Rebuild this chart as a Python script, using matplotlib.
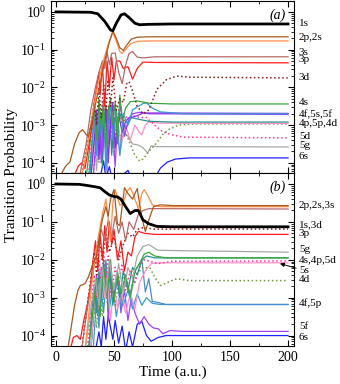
import matplotlib.pyplot as plt
from matplotlib.ticker import LogLocator, MultipleLocator, NullFormatter
import matplotlib.transforms as mtransforms

plt.rcParams['font.family'] = 'Liberation Serif'
plt.rcParams['mathtext.fontset'] = 'stix'

# values as (time, log10 of probability)
# ---- panel (a)
A_1S = [(0, 0), (30, -0.01), (36, -0.05), (42, -0.25), (47, -0.48), (49, -0.5), (52, -0.3),
        (56, -0.08), (59, -0.05), (63, -0.15), (68, -0.3), (72, -0.34), (80, -0.33), (100, -0.32), (200, -0.32)]
A_2P = [(3, -4.4), (8, -4.1), (12, -3.98), (16, -3.5), (20, -3.2), (23, -3.12), (26, -3.25), (28, -3.3),
        (31, -2.9), (35, -2.3), (38, -1.9), (42, -1.3), (46, -0.8), (49, -0.5), (52, -0.7), (55, -0.95),
        (58, -1.02), (61, -0.88), (65, -0.72), (70, -0.67), (80, -0.66), (200, -0.66)]
A_2S = [(22, -4.4), (27, -3.6), (31, -2.8), (35, -2.1), (40, -1.4), (45, -0.85), (49, -0.55), (52, -0.78),
        (55, -1.05), (57, -1.1), (60, -1.0), (64, -0.85), (70, -0.78), (80, -0.77), (200, -0.77)]
A_3S = [(20, -4.4), (26, -3.5), (30, -2.6), (34, -2.0), (37, -1.6), (40, -1.3), (42, -1.5), (44, -1.06),
        (46, -1.4), (48, -1.1), (51, -1.09), (54, -1.6), (57, -1.9), (60, -1.4), (63, -1.1), (66, -1.05),
        (70, -1.2), (75, -1.22), (85, -1.19), (200, -1.19)]
A_3P = [(15, -4.4), (19, -4.1), (22, -4.0), (25, -4.15), (28, -3.6), (31, -3.0), (33, -2.4), (35, -2.0),
        (37, -1.6), (38, -2.2), (40, -1.4), (42, -2.5), (44, -1.3), (46, -2.0), (48, -1.2), (50, -1.8),
        (52, -1.3), (55, -1.3), (58, -1.5), (62, -1.45), (66, -1.78), (70, -1.5), (75, -1.33), (85, -1.34), (200, -1.35)]
A_3D = [(22, -4.4), (27, -3.5), (30, -3.0), (33, -2.4), (35, -3.0), (37, -2.0), (39, -2.8), (41, -1.9),
        (43, -2.6), (45, -1.8), (47, -2.5), (49, -1.75), (52, -2.6), (55, -2.3), (58, -2.4), (61, -1.9),
        (63, -1.85), (66, -2.1), (70, -2.5), (75, -2.7), (80, -2.6), (87, -2.05), (95, -1.8), (104, -1.7),
        (115, -1.73), (200, -1.75)]
A_4S = [(26, -4.4), (29, -3.6), (31, -3.0), (33, -2.5), (35, -3.4), (37, -2.3), (39, -3.1), (41, -2.4),
        (43, -3.6), (45, -2.6), (47, -2.3), (49, -3.0), (51, -2.4), (53, -3.5), (55, -2.2), (57, -2.9),
        (60, -2.55), (64, -2.38), (70, -2.36), (80, -2.42), (100, -2.44), (200, -2.44)]
A_4F = [(28, -4.4), (31, -3.5), (33, -2.7), (35, -3.8), (37, -2.5), (39, -3.3), (41, -2.6), (43, -4.2),
        (45, -2.8), (47, -2.5), (49, -3.4), (52, -2.6), (55, -3.8), (58, -2.7), (62, -3.0), (66, -2.6),
        (70, -2.52), (75, -2.43), (78, -2.41), (83, -2.55), (90, -2.65), (110, -2.7), (200, -2.7)]
A_5S = [(30, -4.4), (33, -3.4), (35, -2.6), (37, -3.9), (39, -2.7), (41, -3.3), (43, -2.5), (45, -4.0),
        (47, -2.9), (49, -2.4), (51, -3.6), (54, -2.7), (57, -3.2), (60, -2.9), (63, -2.8), (66, -2.79),
        (70, -2.75), (75, -2.68), (85, -2.68), (200, -2.69)]
A_5F = [(32, -4.4), (35, -3.2), (37, -2.8), (39, -4.0), (41, -2.9), (44, -2.6), (46, -3.5), (48, -2.7),
        (51, -4.1), (53, -2.9), (56, -2.5), (59, -3.3), (62, -2.9), (66, -2.7), (72, -2.66), (80, -2.7), (200, -2.72)]
A_4P = [(29, -4.4), (32, -3.1), (34, -2.6), (36, -3.5), (38, -2.8), (40, -4.1), (42, -2.7), (44, -3.2),
        (46, -2.5), (48, -3.8), (50, -2.8), (53, -3.0), (56, -2.7), (60, -3.1), (65, -2.8), (72, -2.85),
        (80, -2.9), (100, -2.92), (200, -2.92)]
A_5P = [(30, -4.4), (33, -3.0), (35, -3.7), (37, -2.7), (39, -3.4), (41, -2.5), (43, -3.9), (45, -2.6),
        (47, -3.1), (49, -2.5), (51, -3.7), (53, -2.8), (56, -3.5), (60, -3.0), (64, -3.4), (68, -3.0),
        (72, -3.2), (74, -3.26), (77, -3.0), (80, -2.92), (90, -2.95), (200, -2.96)]
A_4D = [(32, -4.4), (35, -3.4), (37, -4.0), (39, -3.0), (41, -3.6), (43, -2.8), (45, -3.5), (47, -2.9),
        (50, -3.8), (53, -3.0), (56, -3.4), (60, -3.2), (64, -3.5), (68, -3.8), (72, -3.95), (75, -3.9),
        (80, -3.7), (86, -3.5), (92, -3.25), (98, -3.1), (106, -3.0), (120, -2.97), (200, -2.97)]
A_5D = [(28, -4.4), (31, -3.3), (33, -2.8), (35, -3.6), (37, -2.4), (39, -3.2), (41, -2.3), (43, -3.5),
        (45, -2.5), (47, -3.1), (49, -2.4), (51, -3.4), (54, -2.6), (57, -3.0), (60, -2.8), (66, -2.75),
        (72, -2.8), (78, -2.8), (85, -3.0), (92, -3.18), (100, -3.26), (110, -3.32), (200, -3.34)]
A_5G = [(30, -4.4), (33, -3.3), (35, -4.2), (37, -3.0), (40, -3.8), (42, -2.9), (44, -4.3), (46, -3.1),
        (49, -3.6), (52, -2.9), (55, -3.8), (58, -3.2), (62, -3.3), (66, -3.5), (71, -3.53), (75, -3.6),
        (79, -3.74), (82, -3.55), (86, -3.57), (200, -3.58)]
A_6S = [(38, -4.4), (41, -3.95), (43, -4.4), (46, -4.1), (48, -4.4), (55, -4.4), (62, -4.2), (65, -4.4),
        (85, -4.4), (90, -4.14), (96, -3.98), (103, -3.9), (115, -3.87), (200, -3.87)]

# ---- panel (b)
B_1S = [(0, 0), (20, -0.01), (25, -0.03), (33, -0.07), (38, -0.1), (42, -0.2), (46, -0.29), (50, -0.33),
        (53, -0.34), (56, -0.4), (60, -0.6), (64, -0.78), (68, -0.7), (71, -0.7), (75, -0.95), (80, -1.05),
        (87, -1.12), (100, -1.13), (200, -1.13)]
B_2P = [(10, -4.4), (13, -3.8), (16, -3.2), (19, -2.8), (21, -2.68), (25, -2.63), (28, -2.45), (32, -2.1),
        (35, -1.9), (38, -1.3), (40, -0.93), (43, -0.6), (45, -0.85), (47, -0.4), (50, -0.15), (53, -1.05),
        (55, -1.1), (57, -0.6), (59, -0.1), (62, -0.25), (66, -0.4), (70, -0.12), (74, -0.9), (77, -1.25),
        (80, -0.95), (84, -0.6), (90, -0.55), (100, -0.57), (200, -0.57)]
B_2S = [(25, -4.4), (28, -3.5), (31, -2.6), (34, -1.9), (37, -1.3), (40, -0.8), (43, -0.4), (45, -0.9),
        (47, -1.5), (49, -0.5), (51, -0.15), (55, -0.56), (58, -0.5), (61, -0.2), (64, -0.1), (67, -0.3),
        (71, -0.66), (74, -0.25), (76, -0.15), (79, -0.3), (83, -0.55), (90, -0.6), (200, -0.6)]
B_3S = [(22, -4.4), (26, -3.5), (30, -2.7), (33, -2.1), (36, -1.6), (39, -1.2), (42, -1.5), (45, -0.95),
        (48, -1.4), (51, -0.85), (54, -1.3), (57, -1.0), (60, -1.5), (63, -1.0), (67, -1.2), (71, -0.8),
        (75, -0.7), (80, -0.65), (200, -0.66)]
B_3P = [(12, -4.4), (15, -4.05), (18, -4.0), (21, -4.1), (24, -3.6), (27, -3.2), (30, -2.6), (32, -2.0),
        (34, -1.5), (36, -2.3), (38, -1.3), (40, -2.0), (42, -1.1), (44, -1.8), (46, -1.0), (48, -1.6),
        (50, -1.2), (53, -2.0), (56, -1.5), (59, -2.3), (62, -1.8), (65, -1.9), (68, -1.4), (71, -1.25),
        (76, -1.3), (85, -1.33), (200, -1.33)]
B_3D = [(22, -4.4), (26, -3.4), (30, -2.5), (33, -1.8), (35, -2.4), (37, -1.4), (40, -2.0), (43, -1.3),
        (46, -1.8), (50, -1.4), (54, -2.0), (58, -1.6), (62, -1.3), (66, -1.4), (70, -1.2), (75, -1.15),
        (85, -1.19), (200, -1.19)]
B_5G = [(25, -4.4), (30, -3.3), (34, -2.5), (37, -3.2), (40, -2.2), (43, -2.9), (46, -2.0), (50, -2.8),
        (54, -2.1), (58, -2.9), (62, -2.2), (66, -2.5), (70, -1.9), (75, -1.65), (80, -1.6), (88, -1.75), (200, -1.8)]
B_4S = [(28, -4.4), (32, -3.3), (35, -2.5), (38, -3.5), (41, -2.2), (44, -3.0), (47, -2.0), (50, -3.1),
        (53, -2.3), (56, -2.9), (60, -2.4), (64, -3.0), (68, -2.3), (72, -2.1), (76, -1.85), (80, -1.8),
        (85, -1.9), (95, -1.95), (200, -1.95)]
B_4P = [(28, -4.4), (31, -3.3), (33, -2.7), (35, -3.4), (37, -2.3), (39, -3.0), (41, -2.0), (43, -2.8),
        (46, -2.2), (49, -3.2), (52, -2.4), (55, -3.0), (58, -2.3), (62, -2.8), (66, -2.2), (70, -2.4),
        (74, -2.0), (78, -1.9), (85, -1.95), (200, -1.95)]
B_5D = [(27, -4.4), (30, -3.3), (33, -2.4), (35, -3.0), (37, -2.0), (39, -2.6), (41, -1.8), (43, -2.5),
        (45, -1.9), (48, -2.9), (51, -2.2), (54, -2.7), (57, -2.1), (60, -2.8), (64, -2.3), (68, -2.6),
        (72, -2.2), (76, -2.0), (82, -2.05), (88, -2.1), (100, -2.04), (200, -2.03)]
B_5S = [(30, -4.4), (33, -3.0), (35, -2.5), (37, -3.3), (39, -2.3), (42, -3.0), (44, -2.4), (47, -3.6),
        (50, -2.6), (53, -3.3), (56, -2.8), (60, -3.4), (64, -2.9), (68, -3.3), (72, -2.6), (77, -2.3),
        (82, -2.1), (90, -2.08), (200, -2.08)]
B_4D = [(30, -4.4), (33, -3.2), (35, -3.8), (37, -2.8), (40, -3.5), (42, -2.6), (45, -3.3), (48, -2.5),
        (51, -3.2), (54, -2.6), (57, -3.1), (60, -2.4), (64, -2.9), (68, -2.5), (72, -2.3), (75, -2.2),
        (81, -2.22), (86, -2.5), (90, -2.68), (96, -2.6), (104, -2.5), (115, -2.55), (200, -2.55)]
B_4F = [(30, -4.4), (33, -3.2), (35, -2.6), (37, -3.5), (39, -2.3), (41, -3.0), (43, -2.0), (45, -2.8),
        (47, -2.3), (50, -3.0), (53, -2.5), (56, -3.3), (60, -2.5), (64, -2.9), (68, -2.3), (72, -2.1),
        (74, -2.0), (77, -2.85), (80, -2.5), (83, -3.1), (87, -3.12), (95, -3.18), (200, -3.18)]
B_5P = [(32, -4.4), (35, -3.0), (37, -3.8), (39, -2.8), (41, -3.4), (43, -2.6), (46, -3.3), (49, -2.7),
        (52, -3.5), (55, -2.9), (58, -3.2), (62, -2.8), (66, -3.3), (70, -2.9), (74, -3.2), (78, -3.0),
        (83, -3.15), (90, -3.18), (200, -3.18)]
B_5F = [(30, -4.4), (33, -3.1), (35, -2.4), (37, -3.3), (39, -2.2), (41, -2.9), (43, -2.1), (45, -3.6),
        (47, -2.5), (50, -3.0), (53, -2.4), (56, -3.4), (59, -2.8), (62, -3.6), (65, -3.0), (68, -3.4),
        (72, -3.7), (76, -3.5), (80, -3.7), (84, -3.8), (88, -3.82), (92, -3.95), (98, -3.87), (110, -3.89), (200, -3.89)]
B_6S = [(34, -4.4), (37, -3.9), (39, -4.3), (41, -3.5), (43, -4.1), (45, -3.47), (49, -4.1), (51, -3.6),
        (54, -4.2), (57, -3.75), (60, -4.4), (63, -3.9), (66, -4.3), (70, -3.7), (74, -3.63), (78, -4.0),
        (82, -4.15), (88, -4.05), (95, -4.0), (200, -4.0)]

# state labels on the right: (text, log10 position)
A_LABELS = [("1s", -0.32), ("2p,2s", -0.69), ("3s", -1.07), ("3p", -1.27), ("3d", -1.75), ("4s", -2.41),
            ("4f,5s,5f", -2.71), ("4p,5p,4d", -2.97), ("5d", -3.30), ("5g", -3.55), ("6s", -3.82)]
B_LABELS = [("2p,2s,3s", -0.58), ("1s,3d", -1.07), ("3p", -1.31), ("5g", -1.72), ("4s,4p,5d", -2.02),
            ("4d", -2.53), ("4f,5p", -3.14), ("5f", -3.76), ("6s", -4.05)]

BROWN, ORANGE, ROSY, RED, DRED = '#a85a1e', '#ff8c4a', '#b86868', '#ff1a1a', '#8b1a1a'
GREEN, TEAL, CYAN, PURPLE, VIOLET = '#3aa63a', '#2a9090', '#3a9ad0', '#8a2be2', '#a040ff'
PINK, HPINK, GREY, OLIVE, BLUE = '#ff90c8', '#ff3399', '#a8a8a8', '#6a9a3a', '#2020ff'

panel_a = [(A_5G, GREY, '-'), (A_6S, BLUE, '-'), (A_4D, OLIVE, ':'), (A_5P, PINK, '-'), (A_5D, HPINK, ':'),
           (A_4P, TEAL, '-'), (A_5F, VIOLET, '-'), (A_5S, PURPLE, '-'), (A_4F, CYAN, '-'), (A_4S, GREEN, '-'),
           (A_3D, DRED, ':'), (A_3P, RED, '-'), (A_3S, ROSY, '-'), (A_2S, ORANGE, '-'), (A_2P, BROWN, '-')]
panel_b = [(B_6S, BLUE, '-'), (B_5F, VIOLET, '-'), (B_5P, CYAN, '-'), (B_4F, '#4a8ac8', '-'), (B_4D, OLIVE, ':'),
           (B_5S, PINK, '-'), (B_5D, HPINK, ':'), (B_4P, TEAL, '-'), (B_4S, GREEN, '-'), (B_5G, GREY, '-'),
           (B_3D, DRED, ':'), (B_3P, RED, '-'), (B_3S, ROSY, '-'), (B_2S, ORANGE, '-'), (B_2P, BROWN, '-')]

fig = plt.figure(figsize=(3.4, 3.84), dpi=100)
ax_a = fig.add_axes([0.15, 0.5495, 0.715, 0.448])
ax_b = fig.add_axes([0.15, 0.0995, 0.715, 0.45], sharex=ax_a)


def draw(ax, curves, ground, labels, tag):
    for data, color, ls in curves:
        t = [p[0] for p in data]
        y = [10 ** p[1] for p in data]
        ax.plot(t, y, color=color, ls=ls, lw=0.9 if ls == '-' else 1.1)
    ax.plot([p[0] for p in ground], [10 ** p[1] for p in ground], color='black', lw=2)
    ax.set_yscale('log')
    ax.set_ylim(10 ** -4.27, 10 ** 0.29)
    ax.set_xlim(-4.3, 205.2)
    ax.yaxis.set_major_locator(LogLocator(base=10))
    ax.yaxis.set_minor_locator(LogLocator(base=10, subs=range(2, 10), numticks=20))
    ax.yaxis.set_minor_formatter(NullFormatter())
    ax.xaxis.set_major_locator(MultipleLocator(50))
    ax.xaxis.set_minor_locator(MultipleLocator(25))
    ax.tick_params(which='both', direction='in', top=True, right=True, labelsize=10)
    ax.tick_params(which='major', length=4)
    ax.tick_params(which='minor', length=2)
    trans = mtransforms.blended_transform_factory(ax.transAxes, ax.transData)
    for text, v in labels:
        ax.text(1.02, 10 ** v, text, transform=trans, fontsize=8, va='center', ha='left')
    ax.text(0.965, 0.955, tag, transform=ax.transAxes, fontsize=10, style='italic', ha='right', va='top')


draw(ax_a, panel_a, A_1S, A_LABELS, '(a)')
draw(ax_b, panel_b, B_1S, B_LABELS, '(b)')
plt.setp(ax_a.get_xticklabels(), visible=False)

# 5s label with arrow in panel (b)
ax_b.annotate('5s', xy=(193, 10 ** -2.1), xytext=(1.02, 10 ** -2.28),
              textcoords=mtransforms.blended_transform_factory(ax_b.transAxes, ax_b.transData),
              fontsize=8, va='center', ha='left',
              arrowprops=dict(arrowstyle='-|>', color='black', lw=0.7, mutation_scale=6,
                              shrinkA=0, shrinkB=0))

ax_b.set_xlabel('Time (a.u.)', fontsize=11, labelpad=1)
fig.text(0.035, 0.545, 'Transition Probability', rotation=90, fontsize=11, ha='center', va='center')

fig.savefig('out.png', dpi=100)
